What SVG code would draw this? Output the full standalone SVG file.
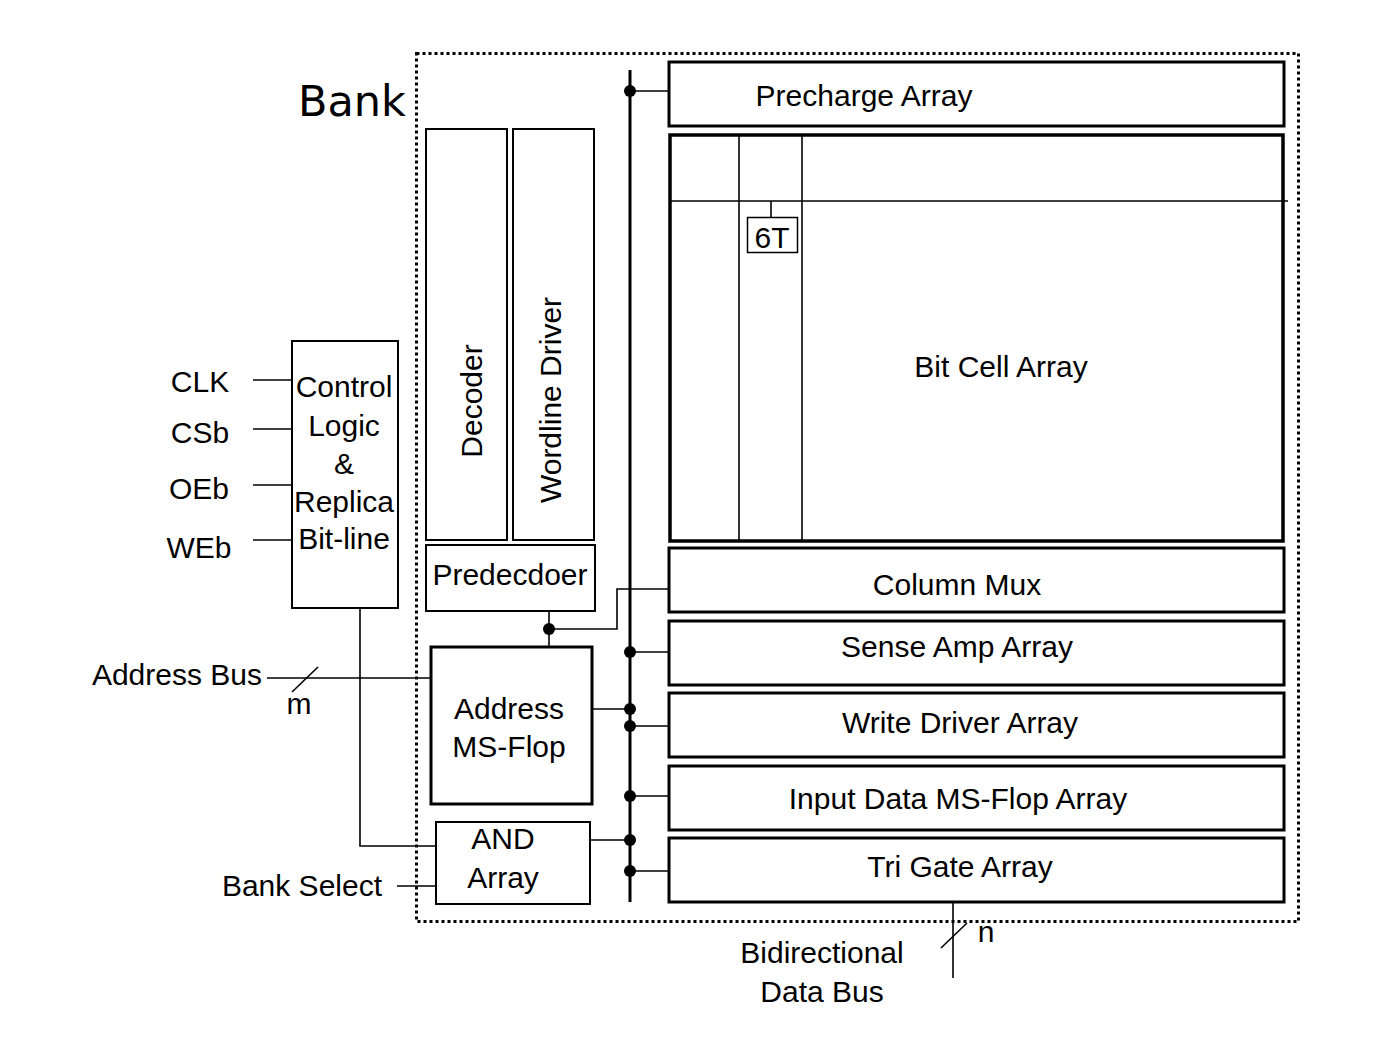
<svg xmlns="http://www.w3.org/2000/svg" width="1377" height="1040" viewBox="0 0 1377 1040">
<defs>
<style>
text{font-family:"Liberation Sans",Arial,sans-serif;font-size:30px;fill:#000}
.c{text-anchor:middle}
.thin{fill:#fff;stroke:#000;stroke-width:2}
.mid{fill:#fff;stroke:#000;stroke-width:3}
.thick{fill:#fff;stroke:#000;stroke-width:3.5}
.w{fill:none;stroke:#000;stroke-width:1.6}
.bus{fill:none;stroke:#000;stroke-width:3}
.dot{fill:#000}
</style>
</defs>
<rect width="1377" height="1040" fill="#fff"/>
<g id="bank">
<rect x="416.5" y="53.5" width="882" height="868" fill="none" stroke="#000" stroke-width="3" stroke-dasharray="3 3"/>
<text x="298" y="116" style="font-family:'DejaVu Sans',sans-serif;font-size:43px">Bank</text>
</g>
<g id="connectors">
<line class="bus" x1="630" y1="70" x2="630" y2="902"/>
<line class="w" x1="630" y1="91" x2="669" y2="91"/>
<line class="w" x1="630" y1="652" x2="669" y2="652"/>
<line class="w" x1="592" y1="709" x2="630" y2="709"/>
<line class="w" x1="630" y1="726" x2="669" y2="726"/>
<line class="w" x1="630" y1="796" x2="669" y2="796"/>
<line class="w" x1="590" y1="840" x2="630" y2="840"/>
<line class="w" x1="630" y1="871" x2="669" y2="871"/>
<polyline class="w" points="549,611 549,646"/>
<polyline class="w" points="549,629 617,629 617,589 669,589"/>
<line class="w" x1="253" y1="380" x2="292" y2="380"/>
<line class="w" x1="253" y1="429" x2="292" y2="429"/>
<line class="w" x1="253" y1="485" x2="292" y2="485"/>
<line class="w" x1="253" y1="540" x2="292" y2="540"/>
<polyline class="w" points="360,608 360,846 436,846"/>
<line class="w" x1="267" y1="678" x2="431" y2="678"/>
<line class="w" x1="292" y1="692" x2="318" y2="667"/>
<line class="w" x1="397" y1="886" x2="436" y2="886"/>
<line class="w" x1="953" y1="903" x2="953" y2="978"/>
<line class="w" x1="941" y1="948" x2="967" y2="923"/>
<circle class="dot" cx="630" cy="91" r="6"/>
<circle class="dot" cx="630" cy="652" r="6"/>
<circle class="dot" cx="630" cy="709" r="6"/>
<circle class="dot" cx="630" cy="726" r="6"/>
<circle class="dot" cx="630" cy="796" r="6"/>
<circle class="dot" cx="630" cy="840" r="6"/>
<circle class="dot" cx="630" cy="871" r="6"/>
<circle class="dot" cx="549" cy="629" r="6"/>
</g>
<g id="precharge">
<rect class="mid" x="669" y="62" width="615" height="64"/>
<text class="c" x="864" y="106">Precharge Array</text>
</g>
<g id="bitcell">
<rect class="thick" x="670" y="135" width="613" height="406" stroke-width="4.5"/>
<line class="w" x1="739" y1="135" x2="739" y2="541"/>
<line class="w" x1="802" y1="135" x2="802" y2="541"/>
<line class="w" x1="670" y1="201" x2="1288" y2="201"/>
<line class="w" x1="771" y1="201" x2="771" y2="217"/>
<rect x="747.5" y="217.5" width="50" height="35" fill="#fff" stroke="#000" stroke-width="1.5"/>
<text class="c" x="772" y="248">6T</text>
<text class="c" x="1001" y="377">Bit Cell Array</text>
</g>
<g id="colmux">
<rect class="mid" x="669" y="548" width="615" height="64"/>
<text class="c" x="957" y="595">Column Mux</text>
</g>
<g id="senseamp">
<rect class="mid" x="669" y="621" width="615" height="64"/>
<text class="c" x="957" y="657">Sense Amp Array</text>
</g>
<g id="writedriver">
<rect class="mid" x="669" y="693" width="615" height="64"/>
<text class="c" x="960" y="733">Write Driver Array</text>
</g>
<g id="inputdata">
<rect class="mid" x="669" y="766" width="615" height="64"/>
<text class="c" x="958" y="809">Input Data MS-Flop Array</text>
</g>
<g id="trigate">
<rect class="mid" x="669" y="838" width="615" height="64"/>
<text class="c" x="960" y="877">Tri Gate Array</text>
</g>
<g id="decoder">
<rect class="thin" x="426" y="129" width="81" height="411"/>
<text class="c" transform="translate(482,401) rotate(-90)">Decoder</text>
</g>
<g id="wordline">
<rect class="thin" x="513" y="129" width="81" height="411"/>
<text class="c" transform="translate(561,400) rotate(-90)">Wordline Driver</text>
</g>
<g id="predecoder">
<rect class="thin" x="426" y="545" width="169" height="66"/>
<text class="c" x="510" y="585">Predecdoer</text>
</g>
<g id="addrflop">
<rect class="mid" x="431" y="647" width="161" height="157"/>
<text class="c" x="509" y="719">Address</text>
<text class="c" x="509" y="757">MS-Flop</text>
</g>
<g id="andarray">
<rect class="thin" x="436" y="822" width="154" height="82"/>
<text class="c" x="503" y="849">AND</text>
<text class="c" x="503" y="888">Array</text>
</g>
<g id="control">
<rect class="thin" x="292" y="341" width="106" height="267"/>
<text class="c" x="344" y="397">Control</text>
<text class="c" x="344" y="436">Logic</text>
<text class="c" x="344" y="474">&amp;</text>
<text class="c" x="344" y="512">Replica</text>
<text class="c" x="344" y="549">Bit-line</text>
</g>
<g id="labels">
<text class="c" x="200" y="392">CLK</text>
<text class="c" x="200" y="443">CSb</text>
<text class="c" x="199" y="499">OEb</text>
<text class="c" x="199" y="558">WEb</text>
<text x="262" y="685" text-anchor="end">Address Bus</text>
<text class="c" x="299" y="714">m</text>
<text x="382" y="896" text-anchor="end">Bank Select</text>
<text class="c" x="986" y="942">n</text>
<text class="c" x="822" y="963">Bidirectional</text>
<text class="c" x="822" y="1002">Data Bus</text>
</g>
</svg>
